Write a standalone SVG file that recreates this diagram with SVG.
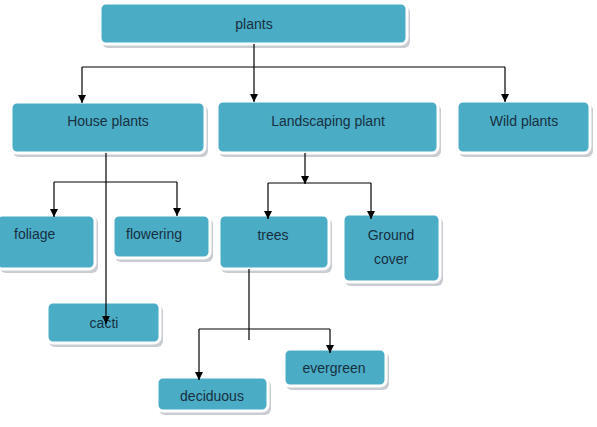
<svg xmlns="http://www.w3.org/2000/svg" width="597" height="427" viewBox="0 0 597 427">
<style>
.sh{fill:#c9cdd2;}
.bx{fill:#4bacc6;stroke:#ffffff;stroke-width:3;}
.t{font-family:"Liberation Sans",Arial,sans-serif;font-size:14px;fill:#17303f;}
.c{fill:none;stroke:#000;stroke-width:1.2;}
</style>
<defs>
<marker id="ar" viewBox="0 0 10 10" refX="10" refY="5" markerWidth="8" markerHeight="8" markerUnits="userSpaceOnUse" orient="auto">
<path d="M0,0 L10,5 L0,10 z" fill="#000"/>
</marker>
</defs>
<rect width="597" height="427" fill="#fff"/>
<g id="plants"><rect class="sh" x="102" y="6" width="308" height="42" rx="6"/><rect class="bx" x="100" y="3" width="307" height="41" rx="6"/><text class="t" x="254" y="29" text-anchor="middle">plants</text></g>
<g id="house"><rect class="sh" x="13" y="105" width="195" height="52" rx="6"/><rect class="bx" x="11" y="102" width="194" height="51" rx="6"/><text class="t" x="108" y="126" text-anchor="middle">House plants</text></g>
<g id="landscaping"><rect class="sh" x="219" y="104" width="222" height="53" rx="6"/><rect class="bx" x="217" y="101" width="221" height="52" rx="6"/><text class="t" x="328" y="126" text-anchor="middle">Landscaping plant</text></g>
<g id="wild"><rect class="sh" x="459" y="104" width="134" height="53" rx="6"/><rect class="bx" x="457" y="101" width="133" height="52" rx="6"/><text class="t" x="524" y="126" text-anchor="middle">Wild plants</text></g>
<g id="foliage"><rect class="sh" x="0" y="217" width="98" height="56" rx="6"/><rect class="bx" x="-4" y="215" width="99" height="54" rx="6"/><text class="t" x="14" y="239">foliage</text></g>
<g id="flowering"><rect class="sh" x="115" y="218" width="98" height="44" rx="6"/><rect class="bx" x="113" y="215" width="97" height="43" rx="6"/><text class="t" x="126" y="239">flowering</text></g>
<g id="trees"><rect class="sh" x="221" y="218" width="111" height="55" rx="6"/><rect class="bx" x="219" y="215" width="110" height="54" rx="6"/><text class="t" x="273" y="240" text-anchor="middle">trees</text></g>
<g id="ground"><rect class="sh" x="345" y="217" width="98" height="69" rx="6"/><rect class="bx" x="343" y="214" width="97" height="68" rx="6"/><text class="t" x="391" y="240" text-anchor="middle">Ground</text><text class="t" x="391" y="264" text-anchor="middle">cover</text></g>
<g id="cacti"><rect class="sh" x="49" y="305" width="114" height="42" rx="6"/><rect class="bx" x="47" y="302" width="113" height="41" rx="6"/><text class="t" x="104" y="328" text-anchor="middle">cacti</text></g>
<g id="evergreen"><rect class="sh" x="286" y="352" width="103" height="38" rx="6"/><rect class="bx" x="284" y="349" width="102" height="37" rx="6"/><text class="t" x="334" y="373" text-anchor="middle">evergreen</text></g>
<g id="deciduous"><rect class="sh" x="159" y="380" width="112" height="35" rx="6"/><rect class="bx" x="157" y="377" width="111" height="34" rx="6"/><text class="t" x="212" y="401" text-anchor="middle">deciduous</text></g>
<g id="connectors">
<path class="c" d="M254,44 V67"/>
<path class="c" d="M82,67 H505"/>
<path class="c" d="M82,67 V103" marker-end="url(#ar)"/>
<path class="c" d="M254,67 V102" marker-end="url(#ar)"/>
<path class="c" d="M505,67 V102" marker-end="url(#ar)"/>
<path class="c" d="M54,182 H177"/>
<path class="c" d="M54,182 V217" marker-end="url(#ar)"/>
<path class="c" d="M177,182 V216" marker-end="url(#ar)"/>
<path class="c" d="M106,153 V324" marker-end="url(#ar)"/>
<path class="c" d="M305,153 V184" marker-end="url(#ar)"/>
<path class="c" d="M268,183 H371"/>
<path class="c" d="M268,183 V219" marker-end="url(#ar)"/>
<path class="c" d="M371,183 V219" marker-end="url(#ar)"/>
<path class="c" d="M249,269 V340"/>
<path class="c" d="M199,329 H330"/>
<path class="c" d="M199,329 V380" marker-end="url(#ar)"/>
<path class="c" d="M330,329 V353" marker-end="url(#ar)"/>
</g>
</svg>
